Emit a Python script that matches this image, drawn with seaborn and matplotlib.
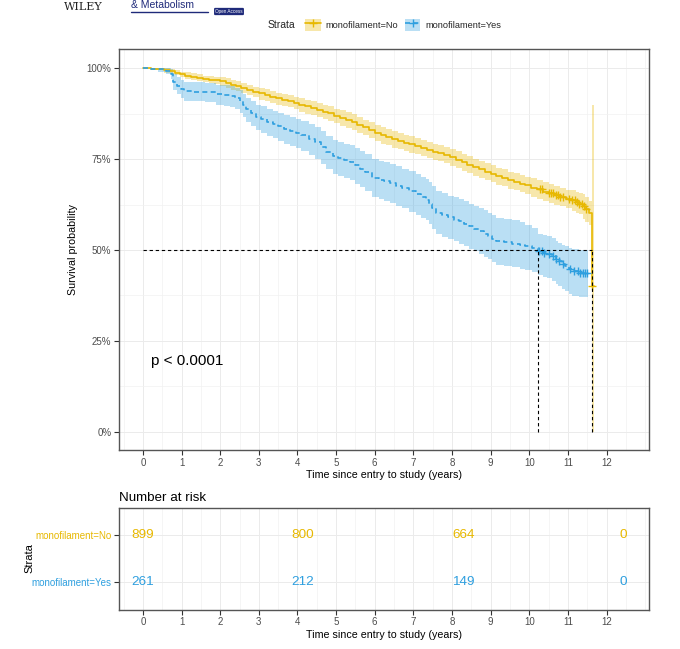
import numpy as np
import pandas as pd
import matplotlib
matplotlib.use("Agg")
import matplotlib.pyplot as plt
import seaborn as sns
from matplotlib.patches import Patch
from matplotlib.lines import Line2D
from matplotlib.ticker import MultipleLocator, FixedLocator

# ---------------- data ----------------
strata = ["monofilament=No", "monofilament=Yes"]
palette = ["#E7B800", "#2E9FDF"]

# monofilament=No : time, survival, lower CI, upper CI
time_no = [0.00, 0.20, 0.40, 0.55, 0.70, 0.82, 0.95, 1.10, 1.25, 1.40, 1.55, 1.70, 1.85,
           2.00, 2.15, 2.28, 2.40, 2.55, 2.70, 2.85, 3.00, 3.15, 3.30, 3.45, 3.60, 3.75,
           3.90, 4.05, 4.20, 4.35, 4.50, 4.65, 4.80, 4.95, 5.10, 5.25, 5.40, 5.55, 5.70,
           5.85, 6.00, 6.15, 6.30, 6.45, 6.60, 6.75, 6.90, 7.05, 7.20, 7.35, 7.50, 7.65,
           7.80, 7.95, 8.10, 8.25, 8.40, 8.55, 8.70, 8.85, 9.00, 9.15, 9.30, 9.45, 9.60,
           9.75, 9.90, 10.05, 10.20, 10.35, 10.50, 10.65, 10.80, 10.95, 11.10, 11.20, 11.30,
           11.38, 11.45, 11.55, 11.62, 11.68]
surv_no = [1.000, 0.999, 0.997, 0.995, 0.992, 0.988, 0.984, 0.980, 0.977, 0.974, 0.971, 0.969, 0.967,
           0.964, 0.960, 0.955, 0.951, 0.946, 0.941, 0.936, 0.931, 0.926, 0.921, 0.917, 0.914, 0.910,
           0.905, 0.900, 0.895, 0.891, 0.886, 0.881, 0.876, 0.870, 0.864, 0.858, 0.852, 0.845, 0.838,
           0.830, 0.822, 0.816, 0.811, 0.805, 0.800, 0.795, 0.791, 0.786, 0.781, 0.776, 0.771, 0.767,
           0.762, 0.755, 0.749, 0.742, 0.735, 0.728, 0.722, 0.716, 0.710, 0.704, 0.699, 0.693, 0.688,
           0.683, 0.678, 0.672, 0.667, 0.661, 0.656, 0.651, 0.646, 0.641, 0.637, 0.633, 0.628,
           0.620, 0.612, 0.602, 0.400, 0.400]
lower_no = [1.000, 0.996, 0.994, 0.988, 0.985, 0.981, 0.977, 0.970, 0.967, 0.964, 0.961, 0.959, 0.957,
            0.950, 0.946, 0.941, 0.937, 0.932, 0.927, 0.922, 0.914, 0.909, 0.904, 0.900, 0.897, 0.893,
            0.888, 0.880, 0.875, 0.871, 0.866, 0.861, 0.856, 0.850, 0.842, 0.836, 0.830, 0.823, 0.816,
            0.808, 0.799, 0.793, 0.788, 0.782, 0.777, 0.772, 0.768, 0.763, 0.758, 0.753, 0.748, 0.744,
            0.739, 0.732, 0.725, 0.718, 0.711, 0.704, 0.698, 0.692, 0.686, 0.680, 0.675, 0.669, 0.664,
            0.659, 0.654, 0.646, 0.641, 0.635, 0.630, 0.625, 0.620, 0.615, 0.607, 0.603, 0.598,
            0.586, 0.578, 0.568, 0.000, 0.000]
upper_no = [1.000, 1.000, 0.999, 1.000, 0.998, 0.994, 0.990, 0.989, 0.986, 0.983, 0.980, 0.978, 0.976,
            0.977, 0.973, 0.968, 0.964, 0.959, 0.954, 0.949, 0.947, 0.942, 0.937, 0.933, 0.930, 0.926,
            0.921, 0.919, 0.914, 0.910, 0.905, 0.900, 0.895, 0.889, 0.885, 0.879, 0.873, 0.866, 0.859,
            0.851, 0.844, 0.838, 0.833, 0.827, 0.822, 0.817, 0.813, 0.808, 0.803, 0.798, 0.793, 0.789,
            0.784, 0.777, 0.772, 0.765, 0.758, 0.751, 0.745, 0.739, 0.733, 0.727, 0.722, 0.716, 0.711,
            0.706, 0.701, 0.697, 0.692, 0.686, 0.681, 0.676, 0.671, 0.666, 0.665, 0.661, 0.656,
            0.653, 0.645, 0.635, 0.900, 0.900]

# monofilament=Yes : time, survival, lower CI, upper CI
time_yes = [0.00, 0.20, 0.40, 0.60, 0.72, 0.78, 0.88, 0.98, 1.05, 1.30, 1.60, 1.90, 2.10,
            2.25, 2.38, 2.50, 2.60, 2.68, 2.80, 2.93, 3.05, 3.20, 3.36, 3.50, 3.65, 3.80,
            3.95, 4.10, 4.31, 4.45, 4.60, 4.75, 4.91, 5.05, 5.20, 5.35, 5.50, 5.62, 5.75,
            5.94, 6.10, 6.25, 6.40, 6.55, 6.70, 6.88, 7.06, 7.20, 7.32, 7.40, 7.48, 7.58,
            7.75, 7.90, 8.05, 8.18, 8.32, 8.45, 8.58, 8.70, 8.82, 8.92, 9.03, 9.13, 9.35,
            9.56, 9.75, 9.90, 10.07, 10.22, 10.35, 10.45, 10.59, 10.68, 10.75, 10.85, 10.93,
            11.02, 11.10, 11.30, 11.51]
surv_yes = [1.000, 0.999, 0.997, 0.993, 0.985, 0.962, 0.952, 0.944, 0.937, 0.936, 0.935, 0.929, 0.927,
            0.924, 0.918, 0.910, 0.898, 0.887, 0.876, 0.866, 0.860, 0.853, 0.846, 0.840, 0.834, 0.827,
            0.822, 0.816, 0.806, 0.796, 0.784, 0.770, 0.758, 0.752, 0.747, 0.742, 0.734, 0.724, 0.714,
            0.699, 0.694, 0.689, 0.684, 0.677, 0.670, 0.662, 0.653, 0.646, 0.639, 0.628, 0.616, 0.602,
            0.596, 0.590, 0.584, 0.579, 0.572, 0.566, 0.559, 0.552, 0.545, 0.538, 0.531, 0.524, 0.521,
            0.518, 0.514, 0.511, 0.506, 0.497, 0.493, 0.490, 0.483, 0.476, 0.470, 0.462, 0.455,
            0.448, 0.441, 0.437, 0.437]
lower_yes = [1.000, 0.995, 0.991, 0.983, 0.970, 0.940, 0.928, 0.918, 0.910, 0.909, 0.907, 0.900, 0.897,
             0.894, 0.887, 0.878, 0.865, 0.853, 0.841, 0.830, 0.823, 0.815, 0.807, 0.800, 0.793, 0.785,
             0.780, 0.773, 0.762, 0.751, 0.738, 0.723, 0.710, 0.703, 0.698, 0.692, 0.683, 0.673, 0.662,
             0.646, 0.641, 0.635, 0.630, 0.622, 0.615, 0.606, 0.597, 0.589, 0.582, 0.571, 0.558, 0.543,
             0.537, 0.530, 0.524, 0.518, 0.511, 0.504, 0.497, 0.489, 0.482, 0.474, 0.467, 0.460, 0.456,
             0.453, 0.449, 0.446, 0.440, 0.430, 0.426, 0.422, 0.414, 0.407, 0.401, 0.393, 0.386,
             0.380, 0.374, 0.372, 0.372]
upper_yes = [1.000, 1.000, 1.000, 1.000, 0.997, 0.983, 0.975, 0.968, 0.962, 0.961, 0.960, 0.955, 0.953,
             0.951, 0.946, 0.939, 0.929, 0.919, 0.909, 0.900, 0.895, 0.889, 0.883, 0.877, 0.872, 0.866,
             0.861, 0.856, 0.847, 0.838, 0.827, 0.814, 0.803, 0.798, 0.793, 0.789, 0.782, 0.773, 0.764,
             0.750, 0.746, 0.741, 0.737, 0.731, 0.724, 0.717, 0.709, 0.702, 0.696, 0.686, 0.675, 0.662,
             0.656, 0.650, 0.645, 0.640, 0.634, 0.628, 0.622, 0.615, 0.609, 0.602, 0.596, 0.589, 0.585,
             0.582, 0.576, 0.570, 0.560, 0.545, 0.541, 0.538, 0.532, 0.526, 0.520, 0.515, 0.510,
             0.506, 0.503, 0.501, 0.501]

censor_no = [10.28, 10.33, 10.50, 10.56, 10.62, 10.68, 10.74, 10.80, 10.88, 11.02, 11.10,
             11.18, 11.24, 11.30, 11.36, 11.42, 11.47, 11.62]
censor_yes = [10.25, 10.32, 10.38, 10.50, 10.62, 10.70, 10.78, 10.88, 11.05, 11.15, 11.25,
              11.32, 11.38, 11.44, 11.50]

median_times = [11.62, 10.22]

risk_times = [0, 4.14, 8.29, 12.43]
risk_no = [899, 800, 664, 0]
risk_yes = [261, 212, 149, 0]

x_ticks = list(range(0, 13))
y_ticks = [0, 0.25, 0.5, 0.75, 1.0]
y_ticklabels = ["0%", "25%", "50%", "75%", "100%"]
p_label = "p < 0.0001"
x_title = "Time since entry to study (years)"
y_title = "Survival probability"

# ---------------- style ----------------
sns.set_theme(style="white")
plt.rcParams["font.family"] = ["Liberation Sans", "DejaVu Sans"]

W, H = 680, 649
fig = plt.figure(figsize=(W / 100, H / 100), dpi=100)

def fx(px):
    return px / W

def fy(py):
    return 1 - py / H

GRID = "#EBEBEB"
BORDER = "#555555"
TICKC = "#4D4D4D"
XLIM = (-0.62, 13.1)

def style_axes(ax):
    for s in ax.spines.values():
        s.set_color(BORDER)
        s.set_linewidth(1.0)
    ax.tick_params(axis="both", which="major", length=3.5, width=0.8, color="#333333",
                   labelsize=7, labelcolor=TICKC, pad=2, direction="out",
                   bottom=True, left=True)
    ax.tick_params(axis="both", which="minor", length=0)
    ax.set_axisbelow(True)

# ---------------- main panel ----------------
ax = fig.add_axes([fx(119), fy(450), fx(649) - fx(119), (450 - 49) / H])
ax.set_xlim(*XLIM)
ax.set_ylim(-0.05, 1.053)
ax.xaxis.set_major_locator(FixedLocator(x_ticks))
ax.xaxis.set_minor_locator(MultipleLocator(0.5))
ax.yaxis.set_major_locator(FixedLocator(y_ticks))
ax.yaxis.set_minor_locator(MultipleLocator(0.125))
ax.grid(which="major", color=GRID, lw=0.7)
ax.grid(which="minor", color="#F2F2F2", lw=0.5)
style_axes(ax)

groups = [
    (strata[0], time_no, surv_no, lower_no, upper_no, censor_no),
    (strata[1], time_yes, surv_yes, lower_yes, upper_yes, censor_yes),
]

for (name, t, s, lo, hi, _), col in zip(groups, palette):
    ax.fill_between(t, lo, hi, step="post", color=col, alpha=0.33, lw=0)

df_lines = pd.concat(
    [pd.DataFrame({"time": t, "surv": s, "strata": name}) for name, t, s, lo, hi, c in groups],
    ignore_index=True,
)
sns.lineplot(data=df_lines, x="time", y="surv", hue="strata", style="strata",
             palette=dict(zip(strata, palette)),
             dashes={strata[0]: "", strata[1]: (3, 2)},
             drawstyle="steps-post", estimator=None, legend=False, lw=1.2, ax=ax)

for (name, t, s, lo, hi, cens), col in zip(groups, palette):
    t_arr = np.asarray(t)
    s_arr = np.asarray(s)
    idx = np.searchsorted(t_arr, np.asarray(cens), side="right") - 1
    sns.scatterplot(x=cens, y=s_arr[idx], marker="+", color=col, s=30, linewidth=1.0,
                    ax=ax, legend=False, zorder=4)

# median survival lines
med_max = max(median_times)
ax.plot([0, med_max], [0.5, 0.5], color="black", lw=0.8, dashes=(3, 2.5), zorder=5)
for mt in median_times:
    ax.plot([mt, mt], [0, 0.5], color="black", lw=0.8, dashes=(3, 2.5), zorder=5)

ax.set_yticklabels(y_ticklabels)
ax.set_xlabel(x_title, fontsize=7.7, color="black", labelpad=2)
ax.set_ylabel(y_title, fontsize=7.7, color="black", labelpad=6)
ax.text(0.22, 0.194, p_label, fontsize=11, ha="left", va="center", color="black")

# ---------------- risk table ----------------
ax2 = fig.add_axes([fx(119), fy(609.5), fx(649) - fx(119), (609.5 - 507.5) / H])
ax2.set_xlim(*XLIM)
ax2.set_ylim(-0.6, 1.6)
ax2.xaxis.set_major_locator(FixedLocator(x_ticks))
ax2.xaxis.set_minor_locator(MultipleLocator(0.5))
ax2.yaxis.set_major_locator(FixedLocator([1, 0]))
ax2.grid(which="major", color=GRID, lw=0.7)
ax2.grid(which="minor", axis="x", color="#F2F2F2", lw=0.5)
style_axes(ax2)
ax2.set_yticklabels(strata)
for lab, col in zip(ax2.get_yticklabels(), palette):
    lab.set_color(col)

for row_y, counts, col in [(1, risk_no, palette[0]), (0, risk_yes, palette[1])]:
    for rt, n in zip(risk_times, counts):
        ax2.text(rt, row_y, str(n), fontsize=9.7, color=col, ha="center", va="center")

ax2.set_xlabel(x_title, fontsize=7.7, color="black", labelpad=2)
ax2.set_ylabel("Strata", fontsize=8, color="black")
ax2.yaxis.set_label_coords((34 - 119) / 530, 0.5)
ax2.set_title("Number at risk", fontsize=9.6, loc="left", pad=5, color="black")

# ---------------- legend ----------------
fig.text(fx(268), fy(25), "Strata", fontsize=7.5, ha="left", va="center")
handles = [
    (Patch(facecolor=palette[0], alpha=0.33, edgecolor="none"),
     Line2D([], [], color=palette[0], lw=1.2, marker="+", markersize=6, markeredgewidth=1.0)),
    (Patch(facecolor=palette[1], alpha=0.33, edgecolor="none"),
     Line2D([], [], color=palette[1], lw=1.2, ls=(0, (3, 2)), marker="+", markersize=6,
            markeredgewidth=1.0)),
]
fig.legend(handles, strata, loc="center left", bbox_to_anchor=(fx(305), fy(25)), ncol=2,
           frameon=False, fontsize=6.7, handlelength=1.7, handleheight=1.7,
           columnspacing=0.7, handletextpad=0.5, borderpad=0, borderaxespad=0)

# ---------------- journal header (top strip of the page) ----------------
NAVY = "#1F2A7A"
fig.text(fx(64), fy(9.5), "WILEY", fontsize=8, family=["DejaVu Serif"], ha="left",
         va="baseline", color="#222222")
fig.text(fx(131), fy(8.5), "& Metabolism", fontsize=7.5, ha="left", va="baseline", color=NAVY)
fig.add_artist(Line2D([fx(131), fx(208)], [fy(11.5), fy(11.5)], color=NAVY, lw=1.0))
fig.text(fx(229), fy(11.5), "Open Access", fontsize=3.3, ha="center", va="center", color="white",
         bbox=dict(boxstyle="round,pad=0.25", fc=NAVY, ec="none"))

fig.savefig("out.png", dpi=100)
